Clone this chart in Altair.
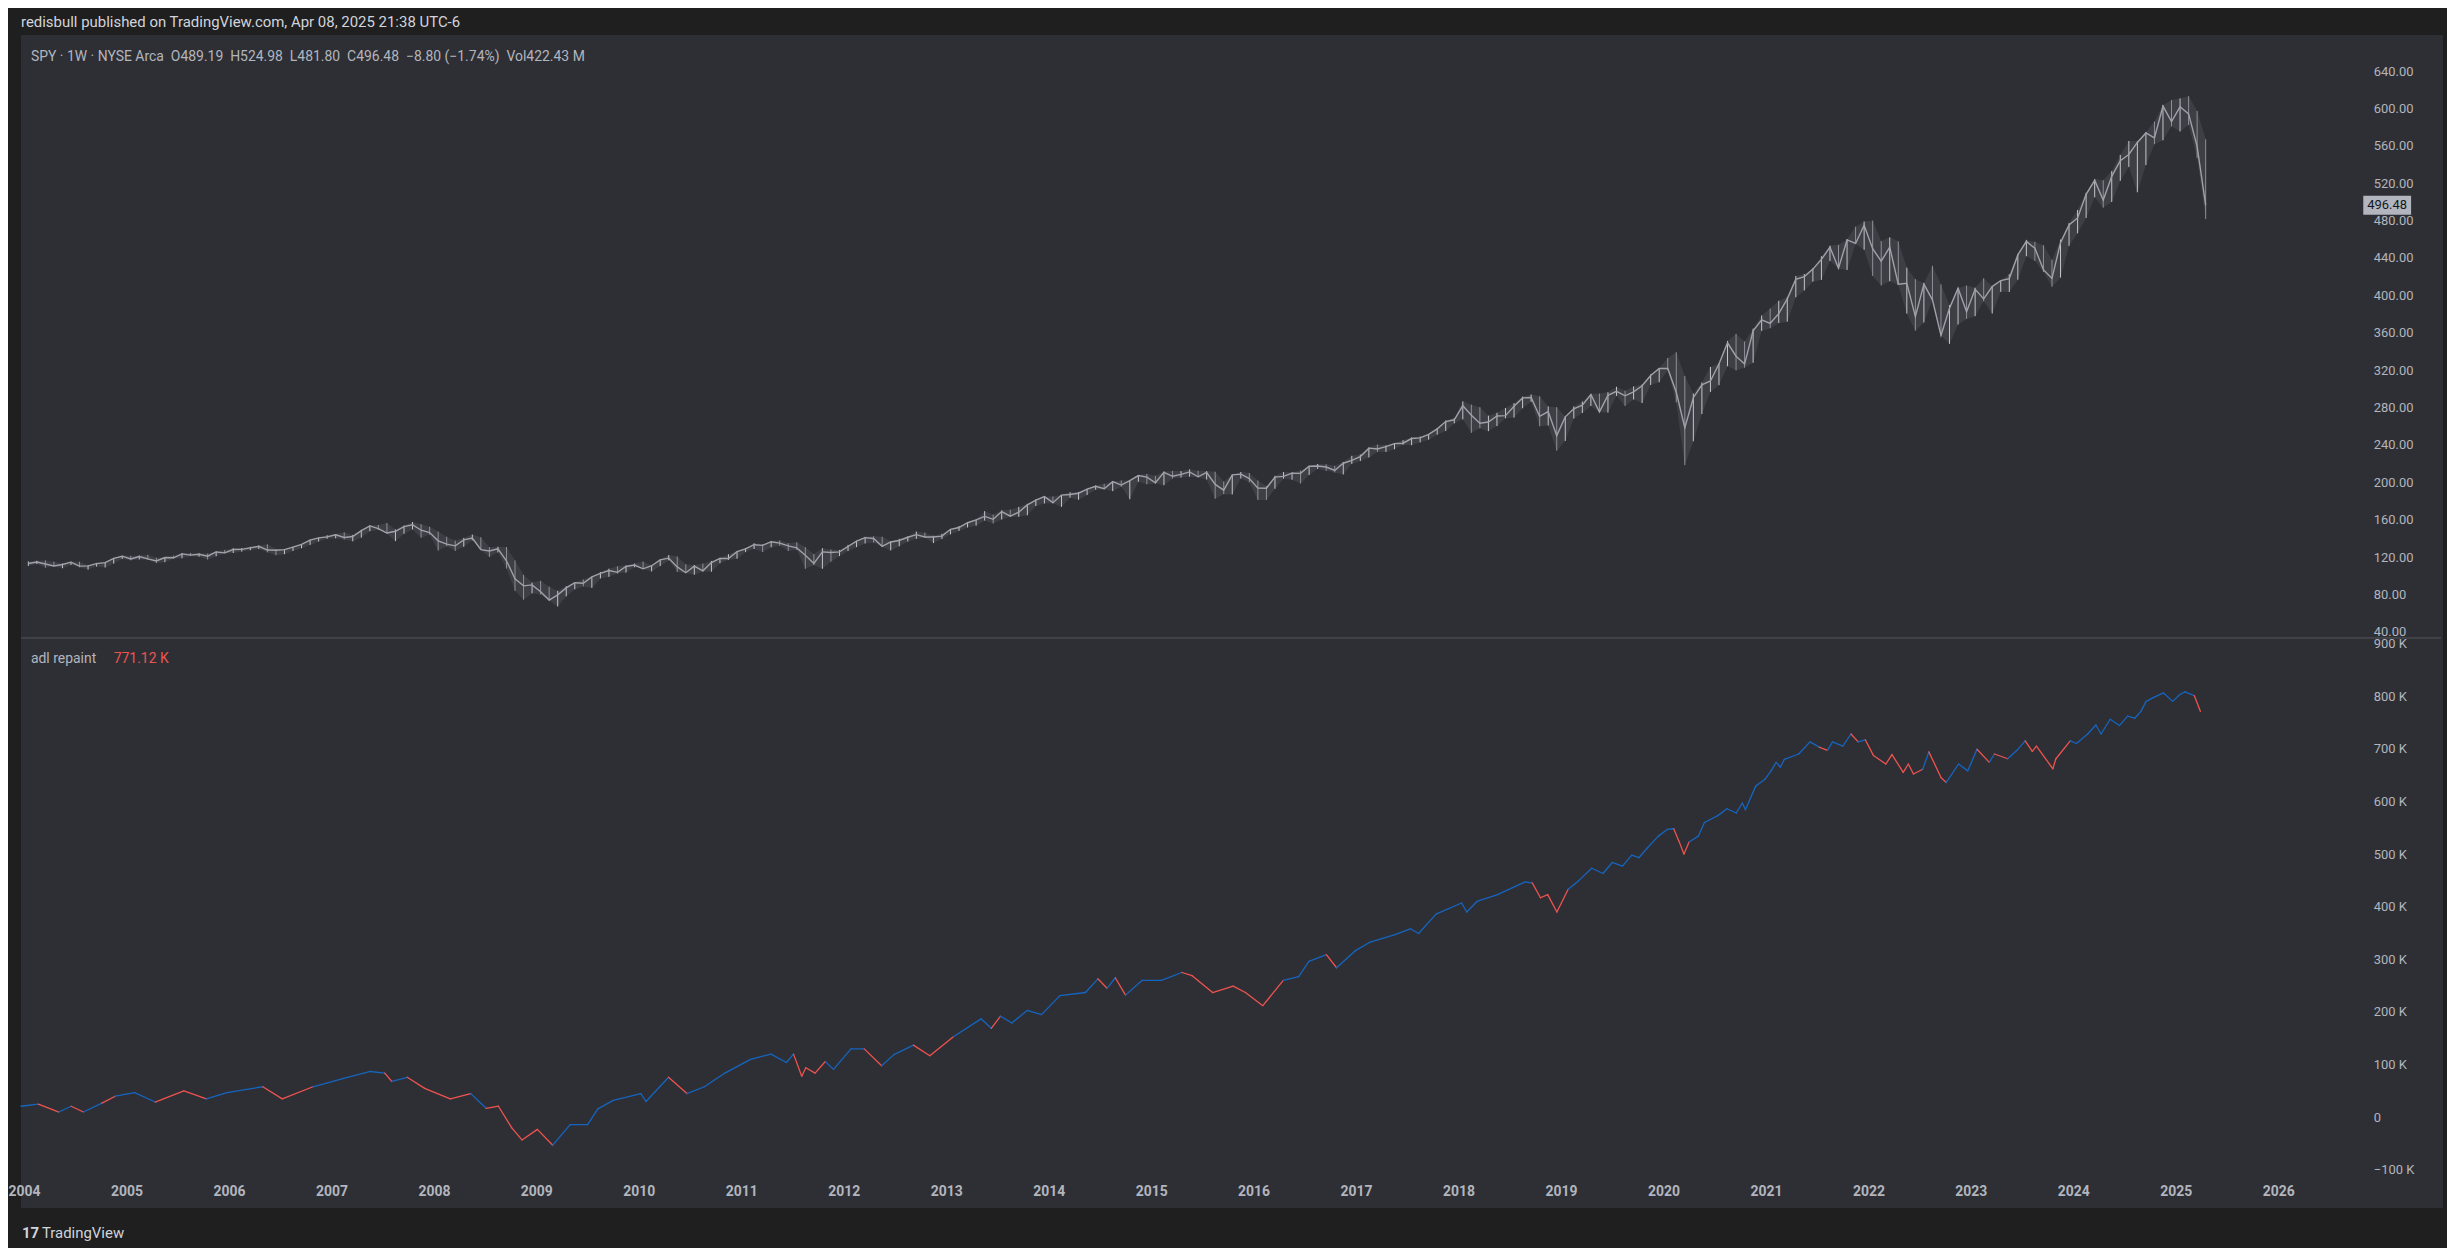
import altair as alt
import pandas as pd

# ---------------- text ----------------
HEADER = "redisbull published on TradingView.com, Apr 08, 2025 21:38 UTC-6"
GAP = "\u00a0\u00a0"
SPY_LEGEND = GAP.join(["SPY · 1W · NYSE Arca", "O489.19", "H524.98", "L481.80", "C496.48",
                       "−8.80 (−1.74%)", "Vol422.43 M"])
ADL_NAME = "adl repaint"
ADL_LAST = "771.12 K"
FOOTER = "TradingView"

YEAR_TICKS = list(range(2004, 2027))
PRICE_TICKS = [40, 80, 120, 160, 200, 240, 280, 320, 360, 400, 440, 480, 520, 560, 600, 640]
ADL_TICKS = [-100, 0, 100, 200, 300, 400, 500, 600, 700, 800, 900]

# ---------------- SPY monthly (Jan 2004 .. Apr 2025) ----------------
SPY_LOW = [
    110.5, 112.5, 108.6, 110.0, 108.0, 111.5, 109.0, 106.6, 109.8, 108.8, 113.0, 118.0,
    116.5, 117.5, 117.0, 113.5, 114.5, 118.3, 118.7, 121.0, 120.4, 117.4, 120.8, 124.0,
    124.3, 125.8, 127.3, 128.5, 125.0, 122.0, 123.0, 126.5, 129.4, 133.0, 136.6, 139.6,
    140.0, 138.8, 136.8, 140.8, 147.6, 148.9, 144.9, 137.0, 144.9, 149.5, 140.7, 144.0,
    126.9, 131.6, 126.6, 131.0, 137.9, 127.6, 120.0, 125.0, 107.7, 83.8, 74.3, 81.2,
    80.0, 73.3, 67.1, 77.9, 85.5, 88.6, 87.0, 97.1, 98.8, 102.3, 103.4, 109.1,
    107.3, 104.6, 110.3, 116.5, 104.0, 103.0, 101.1, 104.4, 104.3, 113.4, 117.0, 118.2,
    125.3, 128.6, 125.3, 130.4, 132.0, 126.4, 127.7, 107.4, 111.4, 107.4, 115.0, 121.0,
    126.4, 130.6, 134.5, 135.4, 131.0, 127.1, 131.5, 136.6, 139.4, 140.7, 134.9, 139.4,
    144.3, 148.0, 151.6, 153.6, 159.0, 156.0, 160.2, 163.0, 163.1, 164.7, 174.6, 177.3,
    177.4, 173.7, 183.5, 181.3, 186.3, 192.0, 192.5, 190.5, 195.2, 181.9, 200.5, 197.9,
    198.6, 196.8, 204.0, 205.1, 206.0, 205.3, 203.0, 182.4, 187.3, 187.0, 204.0, 200.0,
    181.0, 181.1, 193.0, 203.9, 202.8, 198.7, 207.8, 214.3, 212.3, 210.6, 208.4, 219.7,
    222.7, 226.6, 232.5, 232.5, 235.3, 240.2, 239.7, 242.7, 245.6, 250.9, 254.9, 263.0,
    267.4, 252.9, 257.8, 254.7, 260.1, 268.5, 269.2, 279.2, 286.2, 259.9, 260.8, 233.8,
    244.2, 268.2, 274.1, 281.7, 275.0, 274.6, 292.5, 281.7, 288.6, 284.8, 304.2, 307.1,
    320.0, 285.5, 218.3, 243.9, 273.0, 296.7, 304.0, 324.2, 319.8, 322.6, 327.9, 362.0,
    364.8, 370.4, 371.9, 398.0, 405.3, 414.7, 416.6, 436.8, 428.8, 427.2, 455.0, 448.9,
    420.8, 410.6, 415.1, 411.2, 380.5, 362.2, 371.0, 395.0, 357.0, 348.1, 368.8, 374.8,
    377.8, 393.6, 380.6, 403.8, 403.7, 416.8, 441.9, 437.0, 425.0, 409.2, 419.0, 453.0,
    466.4, 482.9, 504.9, 493.9, 499.9, 522.6, 537.5, 510.3, 539.4, 561.8, 566.0, 580.9,
    575.4, 582.4, 546.9, 481.8,
]
SPY_HIGH = [
    115.3, 116.0, 116.4, 115.0, 113.0, 115.0, 115.0, 111.0, 113.8, 114.6, 119.0, 121.5,
    121.4, 121.6, 122.4, 119.3, 120.0, 121.4, 124.3, 124.4, 124.0, 123.7, 126.0, 127.6,
    129.4, 129.6, 131.0, 132.2, 133.6, 128.5, 128.6, 131.1, 134.0, 138.8, 140.7, 143.3,
    144.6, 146.4, 143.7, 149.1, 154.0, 154.4, 156.4, 149.6, 153.7, 157.5, 155.2, 152.4,
    147.2, 141.7, 137.6, 140.5, 144.0, 141.2, 130.5, 131.0, 130.7, 116.4, 101.0, 92.7,
    94.5, 88.2, 83.8, 88.8, 93.0, 96.0, 99.0, 104.0, 107.5, 110.1, 110.9, 113.0,
    115.1, 111.0, 117.5, 122.1, 120.7, 112.2, 111.5, 113.0, 115.8, 119.2, 123.0, 126.2,
    129.6, 134.7, 133.7, 137.2, 137.8, 134.8, 135.7, 130.6, 123.2, 129.5, 128.0, 127.6,
    133.0, 137.5, 141.6, 142.2, 141.7, 136.9, 139.5, 142.1, 147.2, 146.1, 142.8, 144.8,
    150.0, 153.2, 156.8, 160.0, 169.1, 165.4, 170.0, 170.6, 173.6, 176.9, 181.8, 184.7,
    184.8, 186.5, 189.3, 189.7, 193.0, 196.6, 198.3, 200.8, 201.9, 201.8, 207.8, 209.0,
    206.9, 211.5, 212.2, 212.0, 213.8, 212.3, 212.0, 211.3, 200.9, 208.0, 211.0, 210.0,
    201.9, 196.0, 206.9, 210.9, 210.7, 212.5, 217.5, 219.6, 219.2, 217.6, 221.8, 228.3,
    229.7, 237.3, 240.3, 239.5, 242.1, 245.0, 248.0, 248.9, 251.4, 257.9, 266.1, 268.6,
    286.6, 283.1, 280.4, 271.3, 274.3, 279.5, 284.7, 291.7, 293.9, 292.0, 281.2, 280.4,
    270.5, 281.2, 286.4, 294.5, 294.9, 296.3, 302.2, 298.0, 302.6, 304.6, 315.5, 322.1,
    333.0, 339.1, 313.8, 294.9, 306.8, 323.4, 327.2, 351.3, 358.8, 350.7, 364.4, 378.5,
    385.9, 394.2, 398.0, 420.7, 422.8, 429.0, 441.8, 453.1, 454.1, 460.0, 473.5, 479.0,
    480.0, 458.1, 462.1, 457.8, 429.7, 417.4, 413.0, 431.7, 411.7, 389.5, 407.7, 410.5,
    408.2, 418.3, 409.7, 415.9, 422.6, 444.3, 459.4, 457.3, 453.7, 438.1, 459.7, 477.5,
    491.4, 509.7, 524.6, 523.2, 533.1, 550.3, 565.2, 565.0, 574.7, 586.1, 603.5, 609.1,
    610.8, 613.2, 597.3, 567.0,
]
SPY_CLOSE = [
    113.1, 114.7, 112.6, 110.4, 112.0, 114.5, 110.3, 110.6, 113.0, 114.0, 118.6, 120.9,
    118.0, 120.6, 118.0, 115.8, 119.5, 119.2, 123.4, 122.1, 123.0, 120.9, 125.4, 124.5,
    128.0, 128.2, 129.8, 131.5, 127.5, 127.3, 127.9, 130.7, 133.6, 138.1, 140.5, 141.6,
    143.8, 140.9, 142.0, 148.3, 153.3, 150.4, 145.7, 147.6, 152.6, 154.6, 148.7, 146.2,
    137.4, 133.8, 132.0, 138.3, 140.4, 128.0, 126.5, 128.8, 116.0, 96.8, 89.2, 90.2,
    82.8, 73.9, 79.5, 87.0, 92.5, 92.0, 98.8, 102.5, 105.6, 103.6, 109.9, 111.4,
    107.4, 110.7, 117.0, 118.8, 109.4, 103.2, 110.3, 105.3, 114.1, 118.5, 118.5, 125.8,
    128.7, 133.2, 132.5, 136.4, 134.9, 132.0, 129.8, 121.9, 113.2, 125.5, 124.9, 125.5,
    131.3, 137.0, 140.8, 139.9, 131.5, 136.1, 137.7, 141.2, 144.0, 141.4, 141.5, 142.4,
    149.7, 151.6, 156.7, 159.7, 163.5, 160.4, 168.7, 163.7, 168.0, 175.8, 181.0, 184.7,
    178.2, 186.3, 187.0, 188.3, 192.7, 195.7, 193.1, 200.7, 197.0, 201.7, 207.2, 205.5,
    199.5, 210.7, 206.4, 208.5, 211.1, 205.9, 210.5, 197.7, 191.6, 207.9, 208.7, 203.9,
    193.7, 193.6, 205.5, 206.3, 209.8, 209.5, 217.1, 217.4, 216.3, 212.6, 220.4, 223.5,
    227.5, 236.5, 235.7, 238.1, 241.4, 241.8, 246.8, 247.5, 251.2, 257.2, 265.0, 266.9,
    281.9, 271.7, 263.2, 264.5, 270.9, 271.3, 281.3, 290.3, 290.7, 270.6, 275.7, 249.9,
    270.0, 278.7, 282.5, 294.0, 275.3, 293.0, 297.4, 292.5, 296.8, 303.3, 314.3, 321.9,
    321.7, 296.3, 258.4, 290.5, 304.3, 308.4, 326.5, 349.3, 334.9, 326.5, 362.1, 373.9,
    370.1, 380.4, 396.3, 417.3, 420.0, 428.1, 438.5, 451.6, 429.1, 459.3, 455.6, 475.0,
    449.9, 436.6, 451.6, 412.0, 412.9, 377.3, 412.0, 395.2, 357.2, 386.2, 407.7, 382.4,
    406.5, 396.3, 409.4, 415.9, 418.0, 443.3, 457.8, 450.4, 427.5, 418.2, 456.4, 475.3,
    482.9, 508.1, 523.1, 502.0, 527.4, 544.2, 550.8, 563.7, 573.8, 568.6, 602.6, 586.1,
    601.8, 594.2, 559.4, 496.48,
]

ADL_T = [
    2003.97, 2004.14, 2004.34, 2004.46, 2004.58, 2004.76, 2004.89, 2005.08, 2005.28, 2005.56,
    2005.78, 2005.98, 2006.33, 2006.52, 2006.82, 2007.12, 2007.38, 2007.52, 2007.59, 2007.74,
    2007.91, 2008.16, 2008.36, 2008.51, 2008.63, 2008.76, 2008.86, 2009.01, 2009.16, 2009.33,
    2009.50, 2009.60, 2009.75, 2010.02, 2010.07, 2010.29, 2010.47, 2010.64, 2010.84, 2011.09,
    2011.29, 2011.44, 2011.51, 2011.59, 2011.63, 2011.72, 2011.82, 2011.90, 2012.07, 2012.20,
    2012.37, 2012.49, 2012.68, 2012.84, 2013.07, 2013.34, 2013.44, 2013.53, 2013.64, 2013.79,
    2013.93, 2014.11, 2014.36, 2014.48, 2014.57, 2014.65, 2014.75, 2014.91, 2015.10, 2015.30,
    2015.40, 2015.60, 2015.80, 2015.92, 2016.09, 2016.29, 2016.44, 2016.54, 2016.71, 2016.81,
    2016.99, 2017.13, 2017.38, 2017.53, 2017.61, 2017.78, 2018.03, 2018.08, 2018.18, 2018.38,
    2018.65, 2018.72, 2018.80, 2018.87, 2018.96, 2019.07, 2019.17, 2019.30, 2019.41, 2019.50,
    2019.60, 2019.69, 2019.76, 2019.84, 2019.95, 2020.04, 2020.10, 2020.15, 2020.20, 2020.25,
    2020.34, 2020.40, 2020.53, 2020.62, 2020.71, 2020.77, 2020.80, 2020.90, 2020.99, 2021.05,
    2021.10, 2021.14, 2021.18, 2021.32, 2021.43, 2021.52, 2021.60, 2021.65, 2021.75, 2021.83,
    2021.90, 2021.97, 2022.05, 2022.17, 2022.23, 2022.34, 2022.39, 2022.44, 2022.53, 2022.59,
    2022.71, 2022.76, 2022.88, 2022.97, 2023.06, 2023.18, 2023.23, 2023.36, 2023.45, 2023.53,
    2023.60, 2023.64, 2023.80, 2023.83, 2023.97, 2024.03, 2024.14, 2024.22, 2024.27, 2024.36,
    2024.45, 2024.53, 2024.60, 2024.66, 2024.71, 2024.79, 2024.88, 2024.97, 2025.04, 2025.09,
    2025.18, 2025.24,
]
ADL_V = [
    21, 25, 10, 21, 10, 27, 40, 47, 29, 50,
    35, 47, 58, 35, 58, 74, 87, 84, 68, 76,
    55, 35, 45, 17, 21, -20, -43, -23, -53, -14,
    -14, 16, 32, 45, 30, 76, 45, 58, 84, 110,
    120, 104, 120, 78, 94, 84, 106, 91, 130, 130,
    98, 119, 137, 117, 153, 187, 169, 192, 179, 203,
    195, 231, 237, 263, 245, 265, 232, 260, 260, 275,
    269, 237, 249, 237, 212, 260, 267, 296, 309, 284,
    316, 332, 347, 358, 349, 386, 407, 390, 410, 423,
    447, 445, 417, 423, 390, 433, 449, 473, 463, 484,
    477, 498, 493, 511, 534, 547, 548, 525, 500, 523,
    534, 560, 573, 586, 578, 597, 584, 629, 642, 658,
    674, 665, 680, 690, 713, 703, 697, 713, 705, 728,
    713, 717, 687, 671, 689, 655, 671, 652, 661, 694,
    645, 636, 671, 658, 699, 674, 690, 681, 697, 715,
    695, 705, 662, 681, 715, 710, 728, 745, 728, 756,
    744, 762, 758, 771, 790, 798, 806, 790, 803, 808,
    801, 771.12,
]
# colour of the segment arriving at each point: u = blue, d = red
ADL_C = (
    "uudududuud"
    "duudduuudu"
    "dddudddddu"
    "uuuuuuduuu"
    "uuudddduuu"
    "duudduuduu"
    "uuuududuuu"
    "dddddduuud"
    "uuuuuuuuuu"
    "uudddduuuu"
    "uuuuuuuddd"
    "uuuuuuuuuu"
    "uuuuuuduuu"
    "dudddddddu"
    "dduuududuu"
    "ddddduuuuu"
    "uuuuuuuuuu"
    "ud"
)

BG_OUT = "#1f1f1f"
BG_PANE = "#2e2f34"
TXT = "#b2b5be"
BLUE = "#1565c0"
RED = "#ef5350"

X0, X1 = 2003.97, 2026.82
PW = 2349          # plot width
TOP_H = 605
BOT_H = 539
FONT = "Roboto"

# ---------------- frames ----------------
months = [y + (m + 0.5) / 12 for y in range(2004, 2025) for m in range(12)] + \
         [2025 + (m + 0.5) / 12 for m in range(4)]
spy = pd.DataFrame({"t": months, "low": SPY_LOW, "high": SPY_HIGH, "close": SPY_CLOSE})
spy["col"] = ["#c3c5cb"] + ["#c3c5cb" if c >= p else "#8e9199"
                             for p, c in zip(SPY_CLOSE[:-1], SPY_CLOSE[1:])]
last = spy.tail(1).copy()
last["label"] = [f"{SPY_CLOSE[-1]:.2f}"]

seg = pd.DataFrame({
    "t": ADL_T[:-1], "t2": ADL_T[1:],
    "v": ADL_V[:-1], "v2": ADL_V[1:],
    "col": [BLUE if c == "u" else RED for c in ADL_C[1:len(ADL_T)]],
})

one = pd.DataFrame({"a": [0]})

xs = alt.Scale(domain=[X0, X1], nice=False, zero=False)
ys_top = alt.Scale(domain=[33.4, 678.7], nice=False, zero=False)
ys_bot = alt.Scale(domain=[-110, 910.4], nice=False, zero=False)

right_axis_price = alt.Axis(orient="right", values=PRICE_TICKS, format=".2f", title=None,
                            grid=False, domain=False, ticks=False, tickSize=0, labelPadding=11,
                            labelAlign="left", labelBaseline="middle", labelColor=TXT,
                            labelFont=FONT, labelFontSize=13, zindex=1)
right_axis_adl = alt.Axis(orient="right", values=ADL_TICKS, title=None,
                          labelExpr="datum.value == 0 ? '0' : (datum.value < 0 ? '−' : '') + abs(datum.value) + ' K'",
                          grid=False, domain=False, ticks=False, tickSize=0, labelPadding=11,
                          labelAlign="left", labelBaseline="middle", labelColor=TXT,
                          labelFont=FONT, labelFontSize=13, zindex=1)
bottom_axis = alt.Axis(values=YEAR_TICKS, format="d", title=None, grid=False, domain=False,
                       ticks=False, tickSize=0, labelPadding=9, labelColor=TXT,
                       labelFont=FONT, labelFontSize=14, labelFontWeight="bold",
                       labelFlush=False, labelOverlap=False, zindex=1)

# ---------------- top pane ----------------
head_strip = alt.Chart(one).mark_rect(color=BG_OUT).encode(
    x=alt.value(-5), x2=alt.value(2434), y=alt.value(-25), y2=alt.value(0))
pane_top = alt.Chart(one).mark_rect(color=BG_PANE).encode(
    x=alt.value(0), x2=alt.value(2430), y=alt.value(0), y2=alt.value(TOP_H))

band = alt.Chart(spy).mark_area(color="#8a8d95", opacity=0.18).encode(
    x=alt.X("t:Q", scale=xs, axis=None),
    y=alt.Y("low:Q", scale=ys_top, axis=right_axis_price),
    y2="high:Q")
bars = alt.Chart(spy).mark_rule(strokeWidth=1.0).encode(
    x=alt.X("t:Q", scale=xs, axis=None),
    y=alt.Y("low:Q", scale=ys_top),
    y2="high:Q",
    color=alt.Color("col:N", scale=None))
close_line = alt.Chart(spy).mark_line(color="#9fa2aa", strokeWidth=1.4).encode(
    x=alt.X("t:Q", scale=xs, axis=None),
    y=alt.Y("close:Q", scale=ys_top))
price_box = alt.Chart(last).mark_rule(strokeWidth=19, color="#b2b5be").encode(
    x=alt.value(2350), x2=alt.value(2398), y=alt.Y("close:Q", scale=ys_top))
price_txt = alt.Chart(last).mark_text(color="#131722", font=FONT, fontSize=13,
                                       align="center", baseline="middle").encode(
    x=alt.value(2374), y=alt.Y("close:Q", scale=ys_top), text="label:N")
header = alt.Chart(one).mark_text(align="left", baseline="middle", font=FONT, fontSize=15,
                                  color="#d1d4dc").encode(
    x=alt.value(0), y=alt.value(-13), text=alt.value(HEADER))
legend_top = alt.Chart(one).mark_text(align="left", baseline="middle", font=FONT, fontSize=14,
                                      color=TXT).encode(
    x=alt.value(10), y=alt.value(22), text=alt.value(SPY_LEGEND))

top = alt.layer(head_strip, pane_top, band, bars, close_line, price_box, price_txt, header,
                legend_top).properties(width=PW, height=TOP_H)

# ---------------- bottom pane ----------------
pane_bot = alt.Chart(one).mark_rect(color=BG_PANE).encode(
    x=alt.value(0), x2=alt.value(2430), y=alt.value(0), y2=alt.value(BOT_H + 33))
foot_strip = alt.Chart(one).mark_rect(color=BG_OUT).encode(
    x=alt.value(-5), x2=alt.value(2434), y=alt.value(BOT_H + 33), y2=alt.value(BOT_H + 71))
sep = alt.Chart(one).mark_rule(color="#55565c", strokeWidth=1).encode(
    x=alt.value(0), x2=alt.value(2428), y=alt.value(0))

adl = alt.Chart(seg).mark_rule(strokeWidth=1.3, strokeCap="round").encode(
    x=alt.X("t:Q", scale=xs, axis=bottom_axis),
    x2="t2:Q",
    y=alt.Y("v:Q", scale=ys_bot, axis=right_axis_adl),
    y2="v2:Q",
    color=alt.Color("col:N", scale=None))

adl_name = alt.Chart(one).mark_text(align="left", baseline="middle", font=FONT, fontSize=14,
                                    color=TXT).encode(
    x=alt.value(10), y=alt.value(21), text=alt.value(ADL_NAME))
adl_last = alt.Chart(one).mark_text(align="left", baseline="middle", font=FONT, fontSize=14,
                                    color=RED).encode(
    x=alt.value(93), y=alt.value(21), text=alt.value(ADL_LAST))
logo = alt.Chart(one).mark_text(align="left", baseline="middle", font=FONT, fontSize=15,
                                fontWeight="bold", color="#d1d4dc").encode(
    x=alt.value(1), y=alt.value(BOT_H + 58), text=alt.value("17"))
footer = alt.Chart(one).mark_text(align="left", baseline="middle", font=FONT, fontSize=15,
                                  color="#d1d4dc").encode(
    x=alt.value(21), y=alt.value(BOT_H + 58), text=alt.value(FOOTER))

bottom = alt.layer(pane_bot, foot_strip, sep, adl, adl_name, adl_last, logo, footer).properties(
    width=PW, height=BOT_H)

chart = alt.vconcat(top, bottom, spacing=0, bounds="flush").configure(
    background=BG_OUT, padding=0
).configure_view(stroke=None)

chart.save("out.html", embed_options={"renderer": "svg", "actions": False})
